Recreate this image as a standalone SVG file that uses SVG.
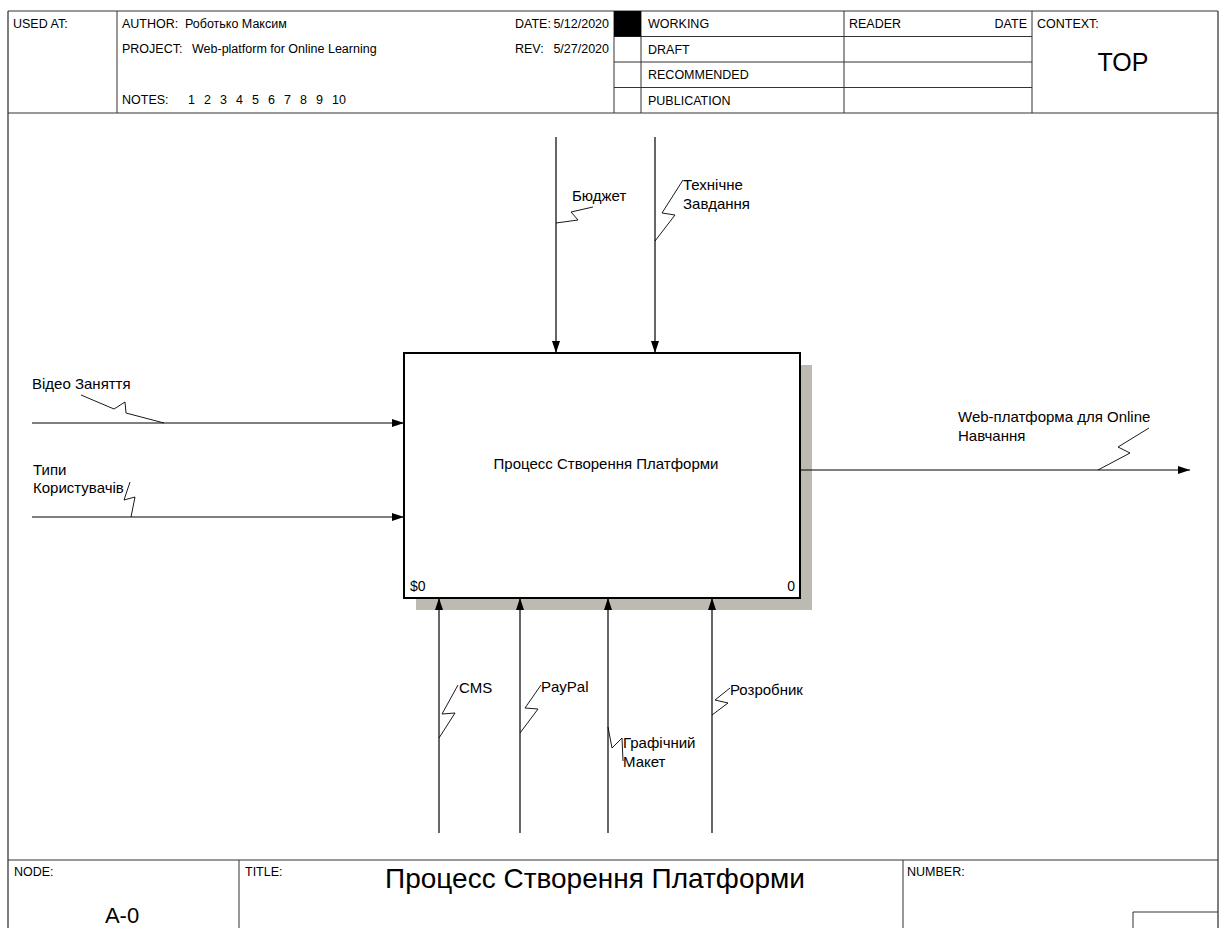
<svg xmlns="http://www.w3.org/2000/svg" width="1224" height="928" viewBox="0 0 1224 928">
<style>
text{font-family:"Liberation Sans",Arial,sans-serif;fill:#000;}
.h{font-size:12.5px;}
.lbl{font-size:15px;}
.frame{stroke:#555;stroke-width:1.5;fill:none;}
.grid{stroke:#333;stroke-width:1;fill:none;}
.arr{stroke:#000;stroke-width:1.2;fill:none;}
.sq{stroke:#000;stroke-width:0.9;fill:none;}
</style>
<defs>
<marker id="ah" viewBox="0 0 12 8" refX="12" refY="4" markerWidth="12" markerHeight="8" orient="auto" markerUnits="userSpaceOnUse"><path d="M0,0 L12,4 L0,8 z" fill="#000"/></marker>
</defs>
<rect x="0" y="0" width="1224" height="928" fill="#fff"/>
<g id="frame">
<line class="frame" x1="8" y1="11" x2="8" y2="928"/>
<line class="frame" x1="1218" y1="11" x2="1218" y2="928"/>
<line class="grid" x1="8" y1="11" x2="1218" y2="11"/>
<line class="grid" x1="8" y1="113" x2="1218" y2="113" stroke-width="1.5"/>
<line class="grid" x1="117" y1="11" x2="117" y2="113"/>
<line class="grid" x1="614" y1="11" x2="614" y2="113"/>
<line class="grid" x1="641" y1="11" x2="641" y2="113"/>
<line class="grid" x1="844" y1="11" x2="844" y2="113"/>
<line class="grid" x1="1032" y1="11" x2="1032" y2="113"/>
<line class="grid" x1="614" y1="36.5" x2="1032" y2="36.5"/>
<line class="grid" x1="614" y1="62" x2="1032" y2="62"/>
<line class="grid" x1="614" y1="87.5" x2="1032" y2="87.5"/>
<rect x="614" y="11" width="27" height="25.5" fill="#000"/>
<text class="h" x="13" y="28">USED AT:</text>
<text class="h" x="122" y="28">AUTHOR:<tspan x="185">Роботько Максим</tspan></text>
<text class="h" x="515" y="28">DATE:</text>
<text class="h" x="609" y="28" text-anchor="end">5/12/2020</text>
<text class="h" x="122" y="53">PROJECT:<tspan x="192">Web-platform for Online Learning</tspan></text>
<text class="h" x="515" y="53">REV:</text>
<text class="h" x="609" y="53" text-anchor="end">5/27/2020</text>
<text class="h" x="122" y="104">NOTES:</text>
<g class="h">
<text x="188" y="104">1</text><text x="204" y="104">2</text><text x="220" y="104">3</text><text x="236" y="104">4</text><text x="252" y="104">5</text><text x="268" y="104">6</text><text x="284" y="104">7</text><text x="300" y="104">8</text><text x="316" y="104">9</text><text x="332" y="104">10</text>
</g>
<text class="h" x="648" y="28">WORKING</text>
<text class="h" x="648" y="54">DRAFT</text>
<text class="h" x="648" y="79">RECOMMENDED</text>
<text class="h" x="648" y="105">PUBLICATION</text>
<text class="h" x="849" y="28">READER</text>
<text class="h" x="1027" y="28" text-anchor="end">DATE</text>
<text class="h" x="1037" y="28">CONTEXT:</text>
<text x="1123" y="71" font-size="25" text-anchor="middle">TOP</text>
<line class="grid" x1="8" y1="860" x2="1218" y2="860" stroke-width="1.5"/>
<line class="grid" x1="239" y1="860" x2="239" y2="928"/>
<line class="grid" x1="903" y1="860" x2="903" y2="928"/>
<polyline class="grid" points="1133,928 1133,912 1218,912"/>
<text class="h" x="14" y="876">NODE:</text>
<text x="122" y="923" font-size="22" text-anchor="middle">A-0</text>
<text class="h" x="245" y="876">TITLE:</text>
<text x="595" y="888" font-size="28" text-anchor="middle">Процесс Створення Платформи</text>
<text class="h" x="907" y="876">NUMBER:</text>
</g>
<g id="A0">
<rect x="416" y="365" width="396" height="245" fill="#bdbab2"/>
<rect x="404" y="353" width="396" height="245" fill="#fff" stroke="#000" stroke-width="2"/>
<text x="606" y="469" font-size="15" text-anchor="middle">Процесс Створення Платформи</text>
<text x="410" y="591" font-size="14">$0</text>
<text x="795" y="591" font-size="14" text-anchor="end">0</text>
</g>
<g id="connectors">
<line class="arr" x1="32" y1="423" x2="404" y2="423" marker-end="url(#ah)"/>
<line class="arr" x1="32" y1="517" x2="404" y2="517" marker-end="url(#ah)"/>
<line class="arr" x1="556" y1="137" x2="556" y2="353" marker-end="url(#ah)"/>
<line class="arr" x1="655" y1="137" x2="655" y2="353" marker-end="url(#ah)"/>
<line class="arr" x1="800" y1="470" x2="1190" y2="470" marker-end="url(#ah)"/>
<line class="arr" x1="439" y1="833" x2="439" y2="598" marker-end="url(#ah)"/>
<line class="arr" x1="520" y1="833" x2="520" y2="598" marker-end="url(#ah)"/>
<line class="arr" x1="608" y1="833" x2="608" y2="598" marker-end="url(#ah)"/>
<line class="arr" x1="712" y1="833" x2="712" y2="598" marker-end="url(#ah)"/>
<polyline class="sq" points="81,395 114,409 125,402 126,413 164,423"/>
<polyline class="sq" points="130,482 124,500 135,497 131,517"/>
<polyline class="sq" points="556,223 578,220 571,212 593,207"/>
<polyline class="sq" points="655,241 675,215 662,213 683,180"/>
<polyline class="sq" points="1098,470 1130,453 1118,447 1149,428"/>
<polyline class="sq" points="439,738 455,713 442,714 458,685"/>
<polyline class="sq" points="520,733 538,709 525,708 541,685"/>
<polyline class="sq" points="608,727 612,748 622,738 623,761"/>
<polyline class="sq" points="712,715 728,703 715,700 730,688"/>
<text class="lbl" x="32" y="389">Відео Заняття</text>
<text class="lbl" x="33" y="475">Типи</text>
<text class="lbl" x="33" y="493">Користувачів</text>
<text class="lbl" x="572" y="201">Бюджет</text>
<text class="lbl" x="683" y="190">Технічне</text>
<text class="lbl" x="683" y="209">Завдання</text>
<text class="lbl" x="958" y="422">Web-платформа для Online</text>
<text class="lbl" x="958" y="441">Навчання</text>
<text class="lbl" x="459" y="693">CMS</text>
<text class="lbl" x="541" y="692">PayPal</text>
<text class="lbl" x="623" y="748">Графічний</text>
<text class="lbl" x="623" y="767">Макет</text>
<text class="lbl" x="730" y="695">Розробник</text>
</g>
</svg>
